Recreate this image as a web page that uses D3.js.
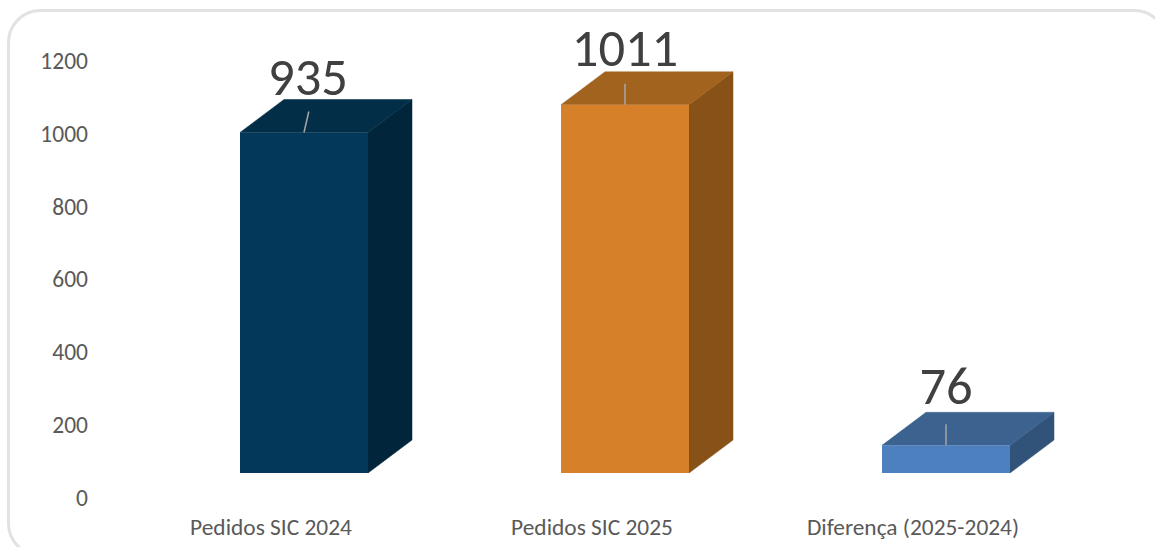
<!DOCTYPE html>
<html><head><meta charset="utf-8">
<script src="https://cdn.jsdelivr.net/npm/d3@7"></script>
<style>html,body{margin:0;padding:0;background:#fff}svg{display:block}</style>
</head><body><svg id="c" width="1155" height="547"></svg>
<script>
const categories = ["Pedidos SIC 2024", "Pedidos SIC 2025", "Diferença (2025-2024)"];
const values = [935, 1011, 76];
const frontColors = ["#03385a", "#d6812a", "#4d80bf"];
const topColors = ["#022e48", "#a2631f", "#3c6290"];
const sideColors = ["#01263b", "#875117", "#325379"];
const yTicks = [0, 200, 400, 600, 800, 1000, 1200];
const labelOffsets = [[4, -38], [0, -39], [0, -41]];

const depthX = 44, depthY = 33, floorLift = 25;
const font = "Carlito, 'Open Sans', sans-serif";
const svg = d3.select("#c");

svg.append("rect").attr("x", 8.5).attr("y", 10.5).attr("width", 1158).attr("height", 545)
  .attr("rx", 32).attr("fill", "#fff").attr("stroke", "#e2e2e2").attr("stroke-width", 3);

const y = d3.scaleLinear().domain([0, 1200]).range([498, 61]);
const x = d3.scaleBand().domain(categories).range([143.5, 1106.5]).paddingInner(0.6).paddingOuter(0.3);
const bw = 128;
const cx = d => x(d) + x.bandwidth() / 2;

svg.append("g").selectAll("text").data(yTicks).join("text")
  .attr("x", 88).attr("y", d => y(d)).attr("dy", "0.34em").attr("text-anchor", "end")
  .attr("font-family", font).attr("font-size", 23.5).attr("fill", "#595959").text(d => d);

svg.append("g").selectAll("text").data(categories).join("text")
  .attr("x", d => cx(d) - 33).attr("y", 535).attr("text-anchor", "middle")
  .attr("font-family", font).attr("font-size", 23.4).attr("fill", "#595959").text(d => d);

const bars = svg.append("g").selectAll("g").data(categories).join("g");
const pts = a => a.map(p => p.join(",")).join(" ");
bars.each(function (d, i) {
  const g = d3.select(this);
  const l = cx(d) - bw / 2, r = l + bw;
  const t = y(values[i]) - floorLift, b = y(0) - floorLift;
  g.append("polygon").attr("fill", sideColors[i]).attr("stroke", sideColors[i]).attr("stroke-width", 0.5)
    .attr("points", pts([[r, t], [r + depthX, t - depthY], [r + depthX, b - depthY], [r, b]]));
  g.append("polygon").attr("fill", topColors[i]).attr("stroke", topColors[i]).attr("stroke-width", 0.5)
    .attr("points", pts([[l, t], [l + depthX, t - depthY], [r + depthX, t - depthY], [r, t]]));
  g.append("rect").attr("x", l).attr("y", t).attr("width", bw).attr("height", b - t).attr("fill", frontColors[i]);
  g.append("line").attr("x1", cx(d)).attr("y1", t).attr("x2", cx(d) + labelOffsets[i][0] * 1.2).attr("y2", t - 21)
    .attr("stroke", "#a6a6a6").attr("stroke-width", 1.5);
  g.append("text").attr("x", cx(d) + labelOffsets[i][0]).attr("y", t + labelOffsets[i][1])
    .attr("text-anchor", "middle").attr("font-family", font).attr("font-size", 52.5)
    .attr("fill", "#404040").text(values[i]);
});
</script></body></html>
